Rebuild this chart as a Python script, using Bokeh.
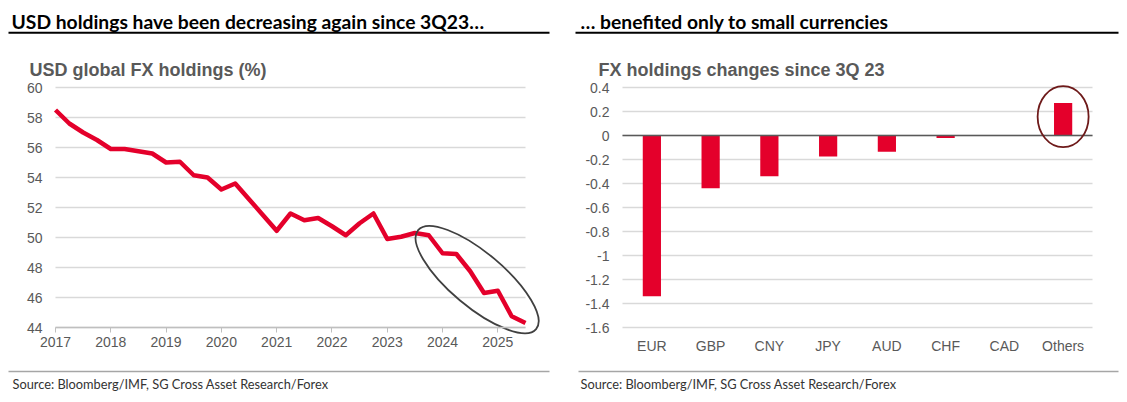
from bokeh.plotting import figure
from bokeh.layouts import row
from bokeh.models import Range1d, FixedTicker, CustomJSTickFormatter
from bokeh.core.properties import value
from bokeh.embed import file_html
from bokeh.resources import INLINE

# ---------------- data ----------------
quarters = [2017.0, 2017.25, 2017.5, 2017.75,
            2018.0, 2018.25, 2018.5, 2018.75,
            2019.0, 2019.25, 2019.5, 2019.75,
            2020.0, 2020.25, 2020.5, 2020.75,
            2021.0, 2021.25, 2021.5, 2021.75,
            2022.0, 2022.25, 2022.5, 2022.75,
            2023.0, 2023.25, 2023.5, 2023.75,
            2024.0, 2024.25, 2024.5, 2024.75,
            2025.0, 2025.25, 2025.5]
usd_share = [58.5, 57.6, 57.0, 56.5,
             55.9, 55.9, 55.75, 55.6,
             55.0, 55.05, 54.15, 54.0,
             53.2, 53.6, 52.55, 51.5,
             50.45, 51.6, 51.15, 51.3,
             50.75, 50.15, 50.95, 51.6,
             49.9, 50.05, 50.3, 50.15,
             48.95, 48.9, 47.75, 46.3,
             46.45, 44.75, 44.3]
year_ticks = [2017, 2018, 2019, 2020, 2021, 2022, 2023, 2024, 2025]
usd_ticks = [44, 46, 48, 50, 52, 54, 56, 58, 60]

currencies = ["EUR", "GBP", "CNY", "JPY", "AUD", "CHF", "CAD", "Others"]
changes = [-1.34, -0.44, -0.34, -0.175, -0.135, -0.02, 0.0, 0.27]
change_ticks = [-1.6, -1.4, -1.2, -1.0, -0.8, -0.6, -0.4, -0.2, 0.0, 0.2, 0.4]

title_left = "USD holdings have been decreasing again since 3Q23\u2026"
title_right = "\u2026 benefited only to small currencies"
sub_left = "USD global FX holdings (%)"
sub_right = "FX holdings changes since 3Q 23"
source = "Source: Bloomberg/IMF, SG Cross Asset Research/Forex"

RED = "#e4002b"
GRID = "#d9d9d9"
LABEL = "#595959"
H = 402


def make_panel(left, width, xd, yd, x_rng, y_rng):
    p = figure(width=width, height=H,
               x_range=Range1d(xd(left), xd(left + width)),
               y_range=Range1d(yd(H), yd(0)),
               toolbar_location=None, output_backend="svg", min_border=0)
    p.xgrid.visible = False
    p.ygrid.visible = False
    p.outline_line_color = None
    for ax in (p.xaxis[0], p.yaxis[0]):
        ax.major_label_text_font = "Liberation Sans"
        ax.major_label_text_font_size = "14px"
        ax.major_label_text_color = LABEL
        ax.minor_tick_line_color = None
    p.yaxis.fixed_location = x_rng[0]
    p.yaxis.bounds = y_rng
    p.yaxis.axis_line_color = None
    p.yaxis.major_tick_line_color = None
    p.yaxis.major_tick_out = 0
    p.yaxis.major_label_standoff = 13
    p.xaxis.fixed_location = y_rng[0]
    p.xaxis.bounds = x_rng
    return p


def decorate(p, xd, yd, tx, r0, r1, sx, fr0, ftx, title, sub):
    p.text(x=[xd(tx)], y=[yd(20.5)], text=[title], text_font=value("Lato"),
           text_font_style="bold", text_font_size="19.3px", text_color="#000000",
           text_baseline="alphabetic")
    p.segment(x0=[xd(r0)], y0=[yd(32.3)], x1=[xd(r1)], y1=[yd(32.3)],
              line_color="#000000", line_width=2)
    p.text(x=[xd(sx)], y=[yd(69)], text=[sub], text_font=value("Liberation Sans"),
           text_font_style="bold", text_font_size="18px", text_color=LABEL,
           text_baseline="alphabetic")
    p.segment(x0=[xd(fr0)], y0=[yd(371)], x1=[xd(r1)], y1=[yd(371)],
              line_color="#a6a6a6", line_width=1.5)
    p.text(x=[xd(ftx)], y=[yd(383.5)], text=[source], text_font=value("Lato"),
           text_font_size="12.8px", text_color="#333333", text_baseline="alphabetic")


# ---------------- left panel ----------------
L_PX_PER_YEAR = (525 - 55) / 8.5
L_PX_PER_UNIT = (327 - 87) / 16.0
xl = lambda px: 2017 + (px - 55) / L_PX_PER_YEAR
yl = lambda py: 60 - (py - 87) / L_PX_PER_UNIT
x_span_l = (quarters[0], quarters[-1])
y_span_l = (usd_ticks[0], usd_ticks[-1])

pl = make_panel(0, 567, xl, yl, x_span_l, y_span_l)
pl.yaxis.ticker = FixedTicker(ticks=usd_ticks)
pl.xaxis.ticker = FixedTicker(ticks=year_ticks)
pl.xaxis.formatter = CustomJSTickFormatter(code="return tick.toFixed(0)")
pl.xaxis.axis_line_color = "#bfbfbf"
pl.xaxis.axis_line_width = 1.3
pl.xaxis.major_tick_line_color = "#bfbfbf"
pl.xaxis.major_tick_out = 5
pl.xaxis.major_tick_in = 0
pl.xaxis.major_label_standoff = 4
pl.segment(x0=[x_span_l[0]] * len(usd_ticks), x1=[x_span_l[1]] * len(usd_ticks),
           y0=usd_ticks, y1=usd_ticks, line_color=GRID, line_width=1.3)
pl.line(quarters, usd_share, line_color=RED, line_width=4.5, line_join="round")

# highlight of the period since 3Q23
k = quarters.index(2023.75)
hx = (quarters[k] + quarters[-1]) / 2
hy = sum(usd_share[k:]) / len(usd_share[k:])
pl.ellipse(x=[hx], y=[hy], width=154, height=54, angle=-40, angle_units="deg",
           width_units="screen", height_units="screen",
           fill_color=None, line_color="#404040", line_width=1.8)
decorate(pl, xl, yl, 11, 8, 549, 29, 8, 12, title_left, sub_left)

# ---------------- right panel ----------------
R_PX_PER_CAT = (1092 - 622) / len(currencies)
R_PX_PER_UNIT = (327 - 87) / 2.0
xr = lambda px: (px - 622) / R_PX_PER_CAT - 0.5
yr = lambda py: 0.4 - (py - 87) / R_PX_PER_UNIT
idx = list(range(len(currencies)))
x_span_r = (-0.5, len(currencies) - 0.5)
y_span_r = (change_ticks[0], change_ticks[-1])

pr = make_panel(567, 560, xr, yr, x_span_r, y_span_r)
pr.yaxis.ticker = FixedTicker(ticks=change_ticks)
pr.yaxis.formatter = CustomJSTickFormatter(code="return Number(tick.toFixed(1)).toString()")
pr.xaxis.ticker = FixedTicker(ticks=idx)
pr.xaxis.major_label_overrides = {i: c for i, c in zip(idx, currencies)}
pr.xaxis.axis_line_color = None
pr.xaxis.major_tick_line_color = None
pr.xaxis.major_tick_out = 0
pr.xaxis.major_label_standoff = 10
pr.segment(x0=[x_span_r[0]] * len(change_ticks), x1=[x_span_r[1]] * len(change_ticks),
           y0=change_ticks, y1=change_ticks, line_color=GRID, line_width=1.3)
pr.vbar(x=idx, top=changes, width=0.31, fill_color=RED, line_color=None)
pr.segment(x0=[x_span_r[0]], x1=[x_span_r[1]], y0=[0], y1=[0],
           line_color="#595959", line_width=1.5)
oi = currencies.index("Others")
pr.ellipse(x=[oi], y=[changes[oi] * 0.58], width=51, height=61,
           width_units="screen", height_units="screen",
           fill_color=None, line_color="#6e1a1a", line_width=1.8)
decorate(pr, xr, yr, 580, 575, 1118, 598, 578, 580, title_right, sub_right)

layout = row(pl, pr)
open("out.html", "w").write(file_html(layout, INLINE))
